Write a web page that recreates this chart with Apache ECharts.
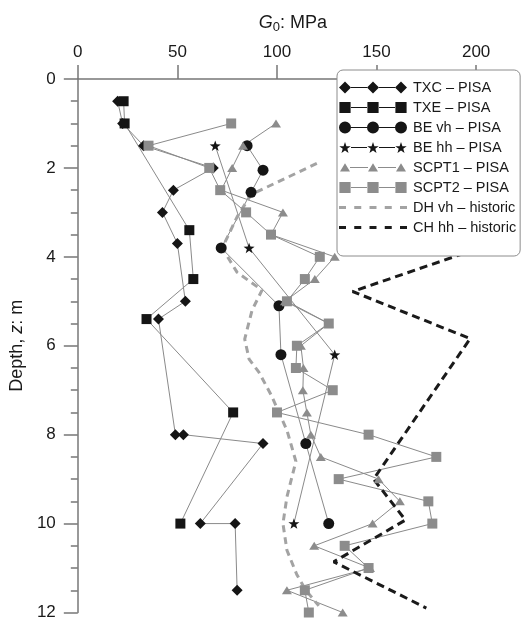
<!DOCTYPE html>
<html><head><meta charset="utf-8">
<script src="https://cdn.jsdelivr.net/npm/echarts@6/dist/echarts.min.js"></script>
<style>html,body{margin:0;padding:0;background:#fff}#c{width:523px;height:621px}</style>
</head><body><div id="c"></div>
<script>
// ---- data (G0 in MPa, depth z in m) ----
const xTickValues = [0, 50, 100, 150, 200];
const seriesNames = ['TXC – PISA', 'TXE – PISA', 'BE vh – PISA', 'BE hh – PISA', 'SCPT1 – PISA', 'SCPT2 – PISA', 'DH vh – historic', 'CH hh – historic'];

const txcDepth = [0.5, 1.0, 1.5, 2.0, 2.5, 3.0, 3.7, 5.0, 5.4, 8.0, 8.0, 8.2, 10.0, 10.0, 11.5];
const txcG     = [20, 22.5, 33, 68, 48, 42.5, 50, 54, 40.5, 49, 53, 93, 61.5, 79, 80];

const txeDepth = [0.5, 1.0, 3.4, 4.5, 5.4, 7.5, 10.0];
const txeG     = [23, 23.5, 56, 58, 34.5, 78, 51.5];

const beVhDepth = [1.5, 2.05, 2.55, 3.8, 5.1, 6.2, 8.2, 10.0];
const beVhG     = [85, 93, 87, 72, 101, 102, 114.5, 126];

const beHhDepth = [1.5, 3.8, 6.2, 10.0];
const beHhG     = [69, 86, 129, 108.5];

const scpt1Depth = [1.0, 1.5, 2.0, 2.5, 3.0, 3.5, 4.0, 4.5, 5.0, 5.5, 6.0, 6.5, 7.0, 7.5, 8.0, 8.5, 9.0, 9.5, 10.0, 10.5, 11.0, 11.5, 12.0];
const scpt1G     = [99.5, 83, 77.5, 72, 103, 97, 129, 119, 104, 126, 112, 113.3, 113, 115, 117, 122, 151, 161.7, 148, 118.7, 146.7, 105, 133];

const scpt2Depth = [1.0, 1.5, 2.0, 2.5, 3.0, 3.5, 4.0, 4.5, 5.0, 5.5, 6.0, 6.5, 7.0, 7.5, 8.0, 8.5, 9.0, 9.5, 10.0, 10.5, 11.0, 11.5, 12.0];
const scpt2G     = [77, 35.5, 66, 71.5, 84.5, 97, 121.5, 114, 105, 126, 110, 109.5, 128, 100, 146, 180, 131, 176, 178, 134, 146, 114, 116];

const dhDepth = [1.9, 2.6, 3.1, 3.8, 4.35, 4.75, 5.2, 5.85, 6.3, 6.6, 7.1, 7.9, 8.6, 9.4, 10.0, 10.6, 11.15, 11.5, 11.85];
const dhG     = [120, 87, 80, 72.5, 80, 92.5, 87.5, 83.8, 86, 91, 97, 105, 109.5, 105, 103, 105, 110, 114.5, 121];

const chDepth = [3.92, 4.78, 5.84, 9.0, 9.92, 10.86, 11.9];
const chG     = [194, 138, 197, 148.5, 164.5, 128.5, 175];

// ---- helpers ----
function pairs(g, d) { return g.map((v, i) => [v, d[i]]); }

function starPath(cx, cy, R, r) {
  let s = '';
  for (let i = 0; i < 10; i++) {
    const a = -Math.PI / 2 + i * Math.PI / 5;
    const rr = i % 2 === 0 ? R : r;
    s += (i === 0 ? 'M' : 'L') + (cx + rr * Math.cos(a)).toFixed(3) + ',' + (cy + rr * Math.sin(a)).toFixed(3);
  }
  return s + 'Z';
}
const STAR = 'path://' + starPath(0, 0, 10, 4);

function iconPath(kind) {
  const cs = [6, 34, 62];
  let p = 'M0,0L0.01,0L0,0.01Z M68,12L67.99,12L68,11.99Z ';
  if (kind === 'dash') {
    const starts = [0, 15.25, 30.5, 45.75, 61];
    starts.forEach(s => { p += `M${s},4.6L${s + 7},4.6L${s + 7},7.4L${s},7.4Z `; });
    return 'path://' + p;
  }
  const half = kind === 'triangle' ? 5 : 6;
  for (let i = 0; i < 2; i++) {
    const a = cs[i] + half, b = cs[i + 1] - half;
    p += `M${a},5.6L${b},5.6L${b},6.4L${a},6.4Z `;
  }
  cs.forEach(c => {
    if (kind === 'diamond') p += `M${c - 6},6L${c},0L${c + 6},6L${c},12Z `;
    else if (kind === 'rect') p += `M${c - 5.6},0.4L${c + 5.6},0.4L${c + 5.6},11.6L${c - 5.6},11.6Z `;
    else if (kind === 'circle') p += `M${c - 6},6A6,6 0 1,1 ${c + 6},6A6,6 0 1,1 ${c - 6},6Z `;
    else if (kind === 'star') p += starPath(c, 6.6, 6, 2.4) + ' ';
    else if (kind === 'triangle') p += `M${c - 5},10L${c},1.8L${c + 5},10Z `;
  });
  return 'path://' + p;
}

const FONT = "'Liberation Sans', Arial, sans-serif";
const BLACK = '#151515', GREY = '#8c8c8c', LINE = '#8a8a8a', AXIS = '#777';

function markerSeries(name, g, d, symbol, size, color) {
  return {
    name, type: 'line', data: pairs(g, d), symbol, symbolSize: size, clip: false,
    itemStyle: { color, borderWidth: 0 }, lineStyle: { color: LINE, width: 1 },
    emphasis: { disabled: true }, animation: false
  };
}

const chart = echarts.init(document.getElementById('c'), null, { renderer: 'canvas' });
chart.setOption({
  animation: false,
  backgroundColor: '#fff',
  textStyle: { fontFamily: FONT },
  grid: { left: 76, top: 79, width: 432, height: 535, containLabel: false },
  xAxis: {
    type: 'value', position: 'top', min: 0, max: 216, interval: 50,
    name: '{i|G}{s|0}{n|: MPa}', nameLocation: 'middle', nameGap: 45,
    nameTextStyle: {
      rich: {
        i: { fontSize: 18, fontStyle: 'italic', fontFamily: FONT, color: '#1a1a1a', lineHeight: 22 },
        s: { fontSize: 13, fontFamily: FONT, color: '#1a1a1a', lineHeight: 22, verticalAlign: 'bottom' },
        n: { fontSize: 18, fontFamily: FONT, color: '#1a1a1a', lineHeight: 22 }
      }
    },
    axisLine: { show: true, onZero: true, lineStyle: { color: AXIS, width: 1.5 } },
    axisTick: { show: true, inside: false, length: 14, customValues: xTickValues, lineStyle: { color: AXIS, width: 1.5 } },
    axisLabel: { show: true, customValues: xTickValues, fontSize: 17, color: '#1a1a1a', margin: 18, fontFamily: FONT },
    splitLine: { show: false }
  },
  yAxis: {
    type: 'value', inverse: true, min: 0, max: 12, interval: 2,
    name: 'Depth, {i|z}: m', nameLocation: 'middle', nameGap: 41,
    nameTextStyle: {
      fontSize: 18, color: '#1a1a1a', fontFamily: FONT,
      rich: { i: { fontSize: 18, fontStyle: 'italic', fontFamily: FONT, color: '#1a1a1a' } }
    },
    axisLine: { show: true, onZero: true, lineStyle: { color: AXIS, width: 1.5 } },
    axisTick: { show: true, inside: false, length: 14, lineStyle: { color: AXIS, width: 1.5 } },
    minorTick: { show: true, splitNumber: 4, length: 7, lineStyle: { color: AXIS, width: 1.5 } },
    axisLabel: { fontSize: 17, color: '#1a1a1a', margin: 22, fontFamily: FONT },
    splitLine: { show: false }, minorSplitLine: { show: false }
  },
  legend: {
    orient: 'vertical', left: 337, top: 70, padding: [10, 4, 21, 2], itemGap: 5,
    itemWidth: 70, itemHeight: 12, align: 'left',
    backgroundColor: '#fff', borderColor: '#8c8c8c', borderWidth: 1, borderRadius: 6,
    textStyle: { fontSize: 14.5, color: '#1a1a1a', fontFamily: FONT },
    itemStyle: { borderWidth: 0 }, selectedMode: false,
    data: [
      { name: seriesNames[0], icon: iconPath('diamond') },
      { name: seriesNames[1], icon: iconPath('rect') },
      { name: seriesNames[2], icon: iconPath('circle') },
      { name: seriesNames[3], icon: iconPath('star') },
      { name: seriesNames[4], icon: iconPath('triangle') },
      { name: seriesNames[5], icon: iconPath('rect') },
      { name: seriesNames[6], icon: iconPath('dash') },
      { name: seriesNames[7], icon: iconPath('dash') }
    ]
  },
  series: [
    markerSeries(seriesNames[0], txcG, txcDepth, 'diamond', 11, BLACK),
    markerSeries(seriesNames[1], txeG, txeDepth, 'rect', 10, BLACK),
    markerSeries(seriesNames[2], beVhG, beVhDepth, 'circle', 11, BLACK),
    markerSeries(seriesNames[3], beHhG, beHhDepth, STAR, [11, 10.5], BLACK),
    markerSeries(seriesNames[4], scpt1G, scpt1Depth, 'triangle', [10, 8], GREY),
    markerSeries(seriesNames[5], scpt2G, scpt2Depth, 'rect', 10, GREY),
    {
      name: seriesNames[6], type: 'line', data: pairs(dhG, dhDepth), symbol: 'none', clip: false,
      itemStyle: { color: '#a3a3a3', borderWidth: 0 },
      lineStyle: { color: '#a3a3a3', width: 3, type: [7, 5], cap: 'butt' }, emphasis: { disabled: true }
    },
    {
      name: seriesNames[7], type: 'line', data: pairs(chG, chDepth), symbol: 'none', clip: false,
      itemStyle: { color: '#1a1a1a', borderWidth: 0 },
      lineStyle: { color: '#1a1a1a', width: 3, type: [8, 5], cap: 'butt' }, emphasis: { disabled: true }
    }
  ]
});
</script></body></html>
